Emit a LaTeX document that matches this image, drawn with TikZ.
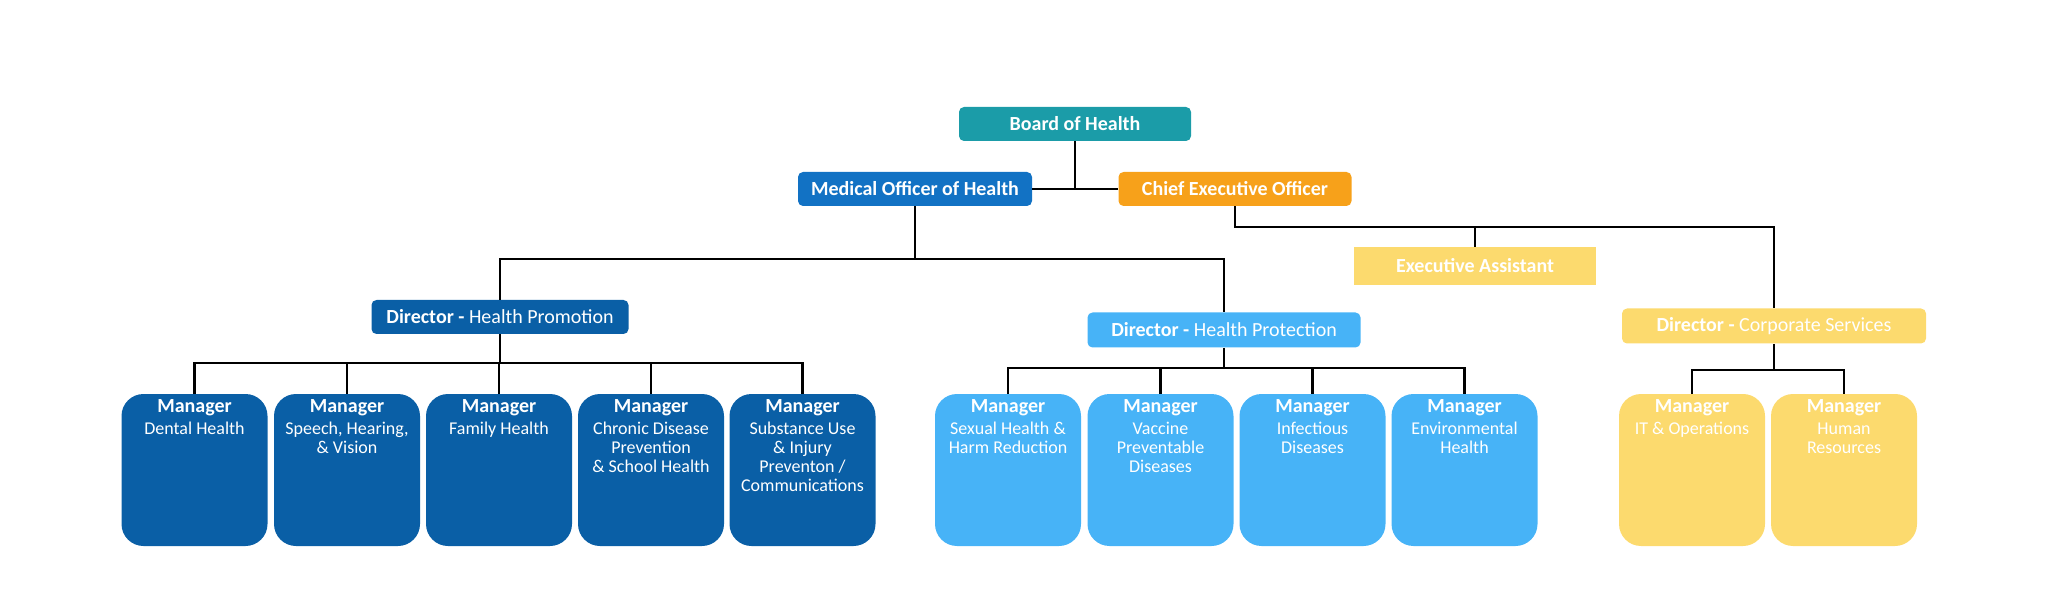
\documentclass[tikz,border=0pt]{standalone}
\usepackage{fontspec}
\setmainfont{Carlito}
\definecolor{teal1}{HTML}{1B9CA8}
\definecolor{moh}{HTML}{1272C4}
\definecolor{orng}{HTML}{F7A11A}
\definecolor{dblue}{HTML}{0A5FA6}
\definecolor{lblue}{HTML}{47B3F7}
\definecolor{yel}{HTML}{FCDA6E}
\begin{document}
\begin{tikzpicture}[x=0.5pt,y=-0.5pt,
  top/.style={draw=none,text=white,rounded corners=2.5pt,inner sep=0pt,font=\fontsize{10}{11}\selectfont\bfseries},
  mgr/.style={draw=none,rounded corners=11pt,minimum width=73pt,minimum height=76pt,inner sep=0pt},
  mtext/.style={anchor=north,text=white,align=center,inner sep=0pt,font=\fontsize{9}{9.6}\selectfont},
  conn/.style={line width=1.4pt,black}]
\useasboundingbox (0,0) rectangle (2048,614);
% top level
\node[top,fill=teal1,minimum width=116pt,minimum height=17pt] (board) at (1075,124) {Board of Health};
\node[top,fill=moh,minimum width=117pt,minimum height=17pt] (moh) at (915,189) {Medical Officer of Health};
\node[top,fill=orng,minimum width=116.5pt,minimum height=17pt] (ceo) at (1235,189) {Chief Executive Officer};
\node[top,fill=dblue,minimum width=128.5pt,minimum height=17pt] (dhp) at (500,317) {Director - \mdseries Health Promotion};
\node[top,fill=lblue,minimum width=136.5pt,minimum height=17.5pt] (dhpr) at (1224,330) {Director - \mdseries Health Protection};
\node[top,fill=yel,rounded corners=0pt,minimum width=121pt,minimum height=19pt] (ea) at (1475,266) {Executive Assistant};
\node[top,fill=yel,minimum width=152pt,minimum height=17.5pt] (dcs) at (1774,326) {Director - \mdseries Corporate Services};
% managers
\foreach \n/\x/\c/\t in {m1/194.5/dblue/Dental Health, m2/347/dblue/{Speech, Hearing,\\\& Vision}, m3/499/dblue/Family Health, m4/651/dblue/{Chronic Disease\\Prevention\\\& School Health}, m5/802.5/dblue/{Substance Use\\\& Injury\\Preventon /\\Communications}, m6/1008/lblue/{Sexual Health \&\\Harm Reduction}, m7/1160.5/lblue/{Vaccine\\Preventable\\Diseases}, m8/1312.5/lblue/{Infectious\\Diseases}, m9/1464.5/lblue/{Environmental\\Health}, m10/1692/yel/{IT \& Operations}, m11/1844/yel/{Human\\Resources}}{
  \node[mgr,fill=\c] (\n) at (\x,470) {};
  \node[mtext] at ([yshift=-3pt]\n.north) {{\fontsize{10}{11}\selectfont\bfseries Manager}\\[1pt]\t};
}
% connectors
\draw[conn] (moh.east) -- (ceo.west);
\draw[conn] (board.south) -- (board.south |- moh.east);
\draw[conn] (moh.south) -- (moh.south |- 0,259);
\draw[conn] (dhp.north) |- (dhpr.north |- 0,259) -- (dhpr.north);
\draw[conn] (ceo.south) |- (dcs.north |- 0,227) -- (dcs.north);
\draw[conn] (ea.north) -- (ea.north |- 0,227);
\draw[conn] (dhp.south) -- (dhp.south |- 0,363);
\draw[conn] (m1.north) |- (m5.north |- 0,363) -- (m5.north);
\foreach \n in {m2,m3,m4} \draw[conn] (\n.north) -- (\n.north |- 0,363);
\draw[conn] (dhpr.south) -- (dhpr.south |- 0,368);
\draw[conn] (m6.north) |- (m9.north |- 0,368) -- (m9.north);
\foreach \n in {m7,m8} \draw[conn] (\n.north) -- (\n.north |- 0,368);
\draw[conn] (dcs.south) -- (dcs.south |- 0,370);
\draw[conn] (m10.north) |- (m11.north |- 0,370) -- (m11.north);
\end{tikzpicture}
\end{document}
